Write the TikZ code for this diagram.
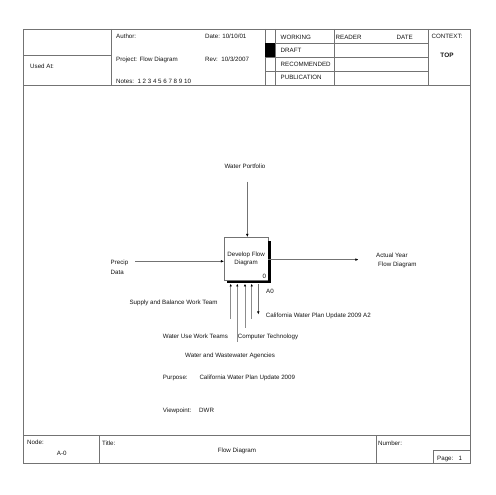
\documentclass[tikz,border=0pt]{standalone}
\usepackage{fontspec}
\setmainfont{Liberation Sans}
\usetikzlibrary{arrows.meta}
\begin{document}
\begin{tikzpicture}[x=1pt,y=-1pt,
  frame/.style={draw=black!55,line width=0.6pt},
  lbl/.style={inner sep=0pt,anchor=base west,text=black!92,font=\fontsize{6.2}{7.4}\selectfont},
  clbl/.style={inner sep=0pt,anchor=base,text=black!92,font=\fontsize{6.2}{7.4}\selectfont},
  arr/.style={draw=black!55,line width=0.5pt,-{Latex[length=3.2pt,width=2.6pt,black]}},
  marr/.style={draw=black!45,line width=0.5pt,-{Latex[length=2.6pt,width=2.4pt,black]}},
  actbox/.style={draw=black!55,line width=0.5pt,inner sep=0pt,minimum width=43.7pt,minimum height=43.2pt,align=center,text=black!92,font=\fontsize{6.2}{7.6}\selectfont}]
\useasboundingbox (0,0) rectangle (495,495);
% outer frame
\draw[frame] (23,29) rectangle (470.5,463.3);
% header
\draw[frame] (23,85.5) -- (470.5,85.5);
\draw[frame] (111,29) -- (111,85.5);
\draw[frame] (23,55.3) -- (111,55.3);
\draw[frame] (265,29) -- (265,85.5);
\draw[frame] (275,29) -- (275,85.5);
\draw[frame] (334,29) -- (334,85.5);
\draw[frame] (428,29) -- (428,85.5);
\draw[frame] (265,43.3) -- (428,43.3);
\draw[frame] (265,57.3) -- (428,57.3);
\draw[frame] (265,71) -- (428,71);
\fill[black] (265,43.3) rectangle (275,57.3);
\node[lbl] (author) at (116,38.5) {Author:};
\node[lbl] (date) at (205,38.5) {Date: 10/10/01};
\node[lbl] (project) at (116,61.2) {Project: Flow Diagram};
\node[lbl] (rev) at (205,61.2) {Rev:\ \ 10/3/2007};
\node[lbl] (notes) at (116,83.2) {Notes:\ \ 1 2 3 4 5 6 7 8 9 10};
\node[lbl] (usedat) at (30,68.9) {Used At:};
\node[lbl] (working) at (280.5,39.5) {WORKING};
\node[lbl] (draft) at (280.5,52.5) {DRAFT};
\node[lbl] (recom) at (280.5,66.2) {RECOMMENDED};
\node[lbl] (publ) at (280.5,79.9) {PUBLICATION};
\node[lbl] (reader) at (335.5,39.5) {READER};
\node[lbl] (rdate) at (396.5,39.5) {DATE};
\node[clbl] (context) at (447,38.2) {CONTEXT:};
\node[clbl,font=\fontsize{6.4}{7.6}\selectfont\bfseries] (top) at (447,58) {TOP};
% footer
\draw[frame] (23,435) -- (470.5,435);
\draw[frame] (99.3,435) -- (99.3,463.3);
\draw[frame] (376,435) -- (376,463.3);
\draw[frame] (433.3,450.7) rectangle (470.5,463.3);
\node[lbl] (nodel) at (27,444.5) {Node:};
\node[clbl] (a0n) at (61.7,455.5) {A-0};
\node[lbl] (title) at (102,445) {Title:};
\node[clbl] (ftitle) at (237,452.5) {Flow Diagram};
\node[lbl] (number) at (378,445) {Number:};
\node[lbl] (page) at (437,460.2) {Page:\ \ \ 1};
% activity box
\node[actbox] (box) at (246.15,258.9) {Develop Flow\\Diagram};
\fill[black] ([yshift=-3.5pt]box.north east) rectangle ([xshift=2.5pt,yshift=-2.5pt]box.south east);
\fill[black] ([xshift=2.5pt]box.south west) rectangle ([xshift=2.5pt,yshift=-2.5pt]box.south east);
\node[lbl] (zero) at (262.5,278.9) {0};
\node[lbl] (a0) at (266,293.2) {A0};
% control
\node[clbl] (ctrl) at (245,168.2) {Water Portfolio};
\coordinate (ctop) at (247.3,181.7);
\draw[arr] (ctop) -- (ctop |- box.north);
% input
\node[lbl] (precip) at (110.5,264.5) {Precip};
\node[lbl] (data) at (110.5,274.9) {Data};
\coordinate (inS) at (135,261.3);
\draw[arr] (inS) -- (inS -| box.west);
% output
\coordinate (outE) at (358.5,259.6);
\draw[arr] (outE -| box.east) -- (outE);
\node[lbl] (actual) at (376,257.2) {Actual Year};
\node[lbl] (flowd) at (378,266.5) {Flow Diagram};
% mechanisms
\coordinate (bb) at (0,283.8);
\coordinate (m1) at (230.7,319);
\coordinate (m2) at (237.3,341.7);
\coordinate (m3) at (245,327.7);
\coordinate (m4) at (251.7,319);
\draw[marr] (m1) -- (m1 |- bb);
\draw[marr] (m2) -- (m2 |- bb);
\draw[marr] (m3) -- (m3 |- bb);
\draw[marr] (m4) -- (m4 |- bb);
\coordinate (callE) at (258.3,314.5);
\draw[arr] (callE |- bb) -- (callE);
\node[lbl] (supply) at (129.3,304.5) {Supply and Balance Work Team};
\node[lbl] (calif) at (265.7,317.2) {California Water Plan Update 2009 A2};
\node[lbl] (wuse) at (162.7,338.9) {Water Use Work Teams};
\node[lbl] (comp) at (237.7,338.9) {Computer Technology};
\node[lbl] (wwa) at (185,357.2) {Water and Wastewater Agencies};
\node[lbl] (purp) at (162.7,379.9) {Purpose:};
\node[lbl] (purpv) at (199.3,379.9) {California Water Plan Update 2009};
\node[lbl] (view) at (162.7,412.5) {Viewpoint:};
\node[lbl] (viewv) at (199,412.5) {DWR};
\end{tikzpicture}
\end{document}
